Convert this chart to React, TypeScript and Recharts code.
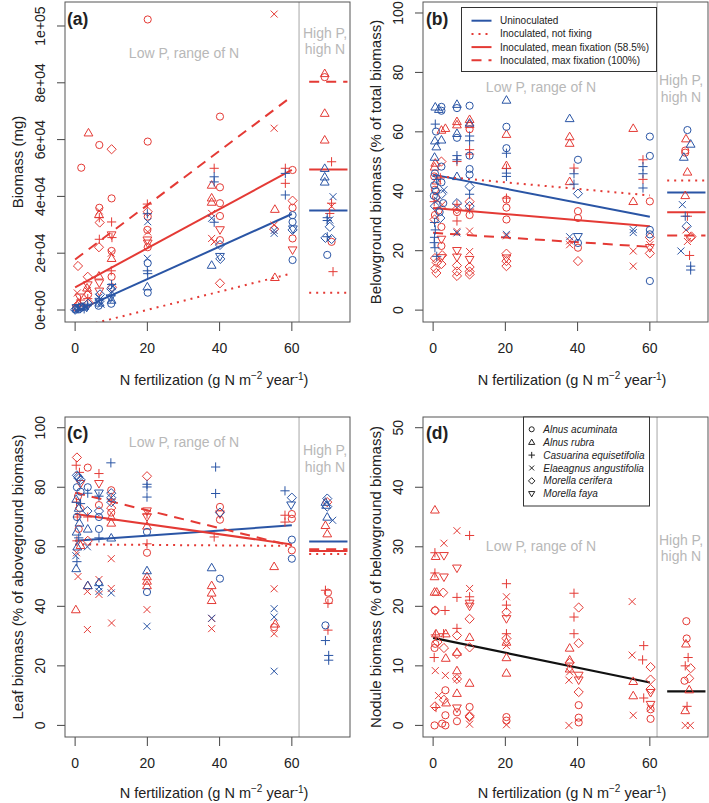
import React from "react";
import { ScatterChart, Scatter, XAxis, YAxis, ReferenceLine } from "recharts";

// species: 0 Alnus acuminata, 1 Alnus rubra, 2 Casuarina, 3 Elaeagnus, 4 Morella cerifera, 5 Morella faya
const AA = 0, AR = 1, CE = 2, EA = 3, MC = 4, MF = 5;
const SPECIES = [
  "Alnus acuminata",
  "Alnus rubra",
  "Casuarina equisetifolia",
  "Elaeagnus angustifolia",
  "Morella cerifera",
  "Morella faya",
];

const X_DOMAIN = [-2.8, 76.1];
const X_TICKS = [0, 20, 40, 60];
const FIT_X = [0, 60];
const HIGH_X = [64.8, 75.4];
const SPLIT_X = 62;

// (a) total biomass, mg
const aRed = [
  [0.5, 1500, MC], [1.0, 2500, AR], [0.3, 800, AA], [1.5, 3500, CE], [0.8, 15500, MC], [1.7, 50100, AA], [1.2, 4500, MF], [0.6, 6000, EA],
  [3.7, 62400, AR], [3.5, 11700, MC], [3.5, 8800, MF], [3.4, 6900, EA], [3.6, 5500, AA], [3.5, 4000, CE], [3.3, 7800, AR], [3.8, 2500, MC],
  [6.7, 58100, AA], [6.7, 36000, AA], [6.7, 34900, EA], [6.6, 33700, AR], [6.7, 32500, CE], [6.8, 30800, MC], [6.7, 24900, CE], [6.6, 22100, MC], [6.7, 9500, MF], [6.7, 6600, MF], [6.6, 12000, AR],
  [10.1, 56600, MC], [10.1, 39300, AA], [10.1, 31000, CE], [10.1, 26400, MF], [10.2, 25500, CE], [10.0, 20000, EA], [10.1, 20800, AA], [10.1, 18200, AR], [10.0, 13800, CE], [10.1, 11700, AA], [10.2, 8000, MC],
  [20.1, 102300, AA], [20.1, 59300, AA], [20.0, 37300, CE], [20.1, 34600, MC], [20.1, 32900, AA], [20.0, 28200, AA], [20.1, 27500, EA], [20.0, 24600, MF], [20.1, 23500, MF], [20.1, 22100, AA],
  [40.1, 68100, AA], [38.5, 49900, CE], [37.8, 44000, AR], [40.1, 43200, AA], [37.8, 39500, AR], [37.8, 38000, AR], [40.1, 37600, AA], [37.8, 34000, EA], [40.1, 33100, AA], [40.1, 28200, MF], [37.8, 25200, EA], [38.5, 24000, EA], [40.1, 24600, AA], [40.1, 9400, MC],
  [55.1, 104200, EA], [55.1, 64000, EA], [58.2, 49900, CE], [60.2, 49300, AA], [58.2, 44600, CE], [60.2, 38500, MC], [55.3, 35500, AR], [60.2, 36000, AA], [55.1, 29900, EA], [55.1, 28500, MC], [60.2, 25200, AA], [60.2, 21100, MF], [55.3, 11500, AR],
  [69.1, 83300, AR], [69.1, 82000, AA], [69.1, 69300, AR], [69.1, 59900, AR], [71.0, 52200, CE], [71.0, 37600, CE], [71.0, 36500, EA], [70.5, 34000, CE], [71.0, 24000, AA], [71.4, 13500, CE],
];
const aBlue = [
  [0.2, 200, AA], [0.5, 400, AR], [0.8, 300, CE], [1.0, 600, EA], [1.3, 500, MC], [0.4, 800, MF], [1.8, 900, AA], [2.2, 1100, AR], [2.8, 1300, EA], [3.4, 1500, CE], [3.6, 2200, MC], [3.2, 900, MF], [0.0, 100, MC], [1.5, 1200, AA], [2.5, 400, CE],
  [6.5, 1500, AA], [6.8, 2500, AR], [6.7, 3500, CE], [6.6, 4500, EA], [6.9, 5500, MC], [6.7, 3000, MF], [7.2, 2000, EA],
  [10.0, 2200, AA], [10.1, 3500, AR], [10.0, 5000, CE], [10.2, 6500, EA], [10.0, 7500, MC], [10.1, 9000, CE], [9.8, 4200, MF], [10.3, 8200, EA],
  [20.0, 33900, CE], [20.1, 31100, EA], [20.0, 18200, EA], [20.1, 16500, AA], [20.0, 13800, CE], [20.1, 12800, CE], [20.0, 8200, AR], [20.1, 6100, AA],
  [38.5, 46900, CE], [38.5, 45100, CE], [37.8, 32300, EA], [38.5, 30900, CE], [40.1, 22900, MC], [40.1, 18800, MF], [40.2, 18000, MC], [37.8, 15800, AR],
  [58.2, 48100, CE], [58.2, 40500, CE], [60.2, 33400, AA], [60.2, 31000, AA], [55.1, 27000, EA], [55.1, 28000, EA], [60.2, 28200, MC], [60.3, 28500, MF], [60.2, 17600, AA],
  [69.1, 49900, AR], [69.1, 46900, AR], [69.1, 45100, AR], [71.4, 39900, EA], [69.8, 32500, CE], [69.8, 31500, CE], [70.5, 31700, EA], [70.5, 29300, MC], [69.8, 25800, CE], [69.3, 25400, MC], [71.0, 25000, MC], [69.8, 19400, AA],
];
// fits: [uninoculated, not fixing, mean fixation, max fixation], values at x = 0 and 60
const aFits = [[-600, 33800], [-6400, 12900], [8000, 49300], [17800, 75200]];
const aHigh = [35000, 6100, 49500, 80400];

// (b) belowground biomass, % of total
const bRed = [
  [2.3, 60.6, AR], [3.4, 61.2, AR], [0.4, 48.2, AR], [0.6, 49.5, AR], [2.3, 50.0, MC], [0.3, 45.0, AA], [1.0, 43.5, AR], [2.0, 44.5, CE], [0.5, 40.5, AA], [0.8, 38.0, AA], [0.3, 36.5, CE], [2.5, 35.5, EA], [0.5, 32.0, AA], [1.5, 33.5, AA], [0.4, 30.5, MC], [2.3, 28.0, AA], [2.3, 23.8, MF], [2.3, 21.6, AA], [0.5, 17.5, MC], [1.0, 16.0, MC], [0.6, 14.0, MC], [2.3, 17.6, MF], [2.3, 15.5, MC], [0.9, 12.5, MC], [2.5, 18.5, MC],
  [6.6, 62.4, AR], [6.6, 63.5, AR], [6.6, 50.0, CE], [6.6, 35.6, CE], [6.6, 33.0, AA], [6.6, 30.0, CE], [6.6, 26.5, EA], [6.6, 20.0, MF], [6.6, 17.8, MF], [6.6, 15.0, MC], [6.6, 13.0, MC], [6.6, 11.5, MC], [6.6, 34.0, MC],
  [10.1, 64.2, AR], [10.1, 62.5, AR], [10.1, 60.9, AA], [10.1, 54.0, CE], [10.1, 52.5, CE], [10.1, 36.5, MC], [10.1, 34.0, CE], [10.1, 32.0, AA], [10.1, 26.6, EA], [10.1, 19.7, EA], [10.1, 17.0, MF], [10.1, 14.5, MC], [10.1, 12.0, MC], [10.1, 13.0, MC],
  [20.3, 59.2, AR], [20.3, 48.7, AR], [20.3, 47.7, CE], [20.3, 37.7, CE], [20.3, 37.2, AA], [20.3, 34.5, AA], [20.3, 30.5, AA], [20.3, 25.0, EA], [20.3, 19.0, MC], [20.3, 17.5, MF], [20.3, 16.5, MC], [20.3, 14.8, MC],
  [37.8, 58.4, AR], [37.8, 56.2, AR], [39.0, 47.8, CE], [37.8, 43.3, AR], [40.1, 33.3, AA], [40.1, 31.0, AA], [37.8, 23.3, EA], [40.1, 21.0, AA], [37.8, 22.0, EA], [40.1, 16.5, MC],
  [55.4, 61.2, AR], [58.1, 50.6, CE], [58.1, 44.0, CE], [55.4, 36.6, AR], [60.0, 36.6, AA], [55.4, 19.9, EA], [55.4, 14.8, EA], [60.0, 22.0, EA], [60.0, 21.0, MF], [60.0, 19.1, MC], [60.0, 24.5, MC],
  [70.0, 57.7, AR], [69.8, 53.7, AA], [69.8, 53.0, AA], [70.4, 46.5, AR], [69.8, 38.6, AR], [70.4, 31.6, CE], [70.0, 27.0, EA], [71.3, 24.4, MC], [71.5, 24.8, MC], [70.4, 23.1, EA], [71.0, 18.4, CE],
];
const bBlue = [
  [0.6, 68.4, AR], [1.6, 67.6, AR], [2.3, 68.4, AA], [2.3, 67.1, AA], [0.6, 62.6, CE], [0.8, 60.1, AA], [0.5, 57.0, AR], [0.9, 55.0, AR], [0.4, 51.5, AR], [2.3, 57.3, AR], [2.3, 48.3, AA], [0.5, 46.0, AA], [1.0, 44.0, CE], [0.3, 42.0, AA], [0.8, 40.0, AA], [0.2, 38.5, AA], [1.2, 37.0, EA], [2.3, 39.0, MC], [2.8, 36.0, AA], [0.5, 35.0, MC], [2.3, 43.0, AA], [3.0, 40.5, EA], [0.4, 29.5, CE], [0.6, 27.0, CE], [0.4, 24.5, CE], [0.3, 22.7, CE], [0.5, 21.0, CE], [1.0, 18.1, CE], [1.8, 33.0, AA], [2.0, 31.0, MC],
  [6.6, 69.3, AR], [6.6, 68.0, AA], [6.6, 59.5, AR], [6.6, 58.0, AA], [6.6, 50.6, CE], [6.6, 52.0, CE], [6.6, 45.0, AR], [6.6, 26.0, EA], [6.6, 36.0, MC],
  [10.1, 68.8, AA], [10.1, 63.0, AR], [10.1, 58.6, CE], [10.1, 57.0, CE], [10.1, 52.0, AA], [10.1, 47.5, AA], [10.1, 45.6, AA], [10.1, 41.6, MC], [10.1, 39.0, CE], [10.1, 35.0, MC],
  [20.3, 70.7, AR], [20.3, 61.7, AA], [20.3, 54.5, AA], [20.3, 52.8, CE], [20.3, 46.1, CE], [20.3, 45.0, CE], [20.3, 25.5, EA],
  [37.8, 64.5, AR], [40.1, 50.6, AA], [39.0, 45.9, CE], [39.0, 42.4, CE], [40.1, 39.2, MC], [37.8, 24.7, EA], [40.1, 24.7, MF], [40.1, 22.6, AA],
  [60.0, 58.4, AA], [60.0, 51.9, AA], [58.1, 48.3, CE], [58.1, 45.9, CE], [58.1, 41.1, CE], [55.4, 27.1, EA], [55.4, 26.1, EA], [60.0, 27.0, AA], [60.0, 25.5, AA], [60.0, 9.8, AA],
  [70.4, 60.6, AA], [71.3, 55.9, AR], [69.4, 51.5, AR], [69.0, 35.5, EA], [69.8, 31.6, CE], [70.2, 28.2, MC], [68.6, 19.9, EA], [71.3, 14.8, CE], [71.3, 13.5, CE],
];
const bFits = [[45.6, 31.4], [45.2, 38.6], [34.4, 28.2], [26.0, 21.3]];
const bHigh = [39.6, 43.6, 32.9, 25.1];

// (c) leaf biomass, % of aboveground
const cRed = [
  [0.5, 90.0, MC], [0.3, 87.4, CE], [1.2, 85.0, CE], [1.5, 81.2, MF], [0.8, 77.0, AA], [0.4, 75.0, CE], [1.3, 73.0, MC], [0.6, 70.0, CE], [1.0, 66.0, AA], [0.5, 62.0, CE], [0.4, 58.0, EA], [0.8, 50.0, EA], [0.2, 38.9, AR], [1.5, 60.5, AR],
  [3.5, 86.6, AA], [3.4, 45.0, EA], [3.5, 47.0, AR], [3.4, 32.2, EA], [3.5, 70.0, CE], [3.5, 62.0, MC],
  [6.6, 84.6, CE], [6.6, 81.2, MF], [6.6, 49.0, EA], [6.6, 44.0, EA], [6.6, 74.0, AA],
  [10.0, 79.0, AA], [10.0, 76.0, CE], [10.0, 73.0, MC], [10.0, 70.0, AR], [10.0, 68.0, AR], [10.0, 56.0, EA], [10.0, 46.0, EA], [10.1, 34.4, EA], [10.0, 71.5, AA],
  [19.9, 83.7, MC], [19.9, 72.0, MF], [19.9, 71.0, CE], [19.9, 70.0, MF], [19.9, 67.0, AR], [19.9, 61.0, CE], [19.9, 58.0, AA], [19.9, 50.0, AR], [19.9, 48.5, AR], [19.9, 47.0, AR], [19.9, 38.9, EA],
  [40.1, 73.4, AA], [40.1, 69.1, AA], [40.1, 71.0, MF], [38.5, 63.3, CE], [37.8, 47.0, AR], [37.8, 44.5, AR], [37.8, 42.0, AR], [37.8, 35.9, EA], [37.8, 32.5, EA],
  [58.1, 70.6, CE], [60.0, 69.4, AA], [58.1, 68.3, CE], [60.0, 71.0, AA], [60.0, 58.8, AA], [55.1, 53.4, AR], [55.1, 45.9, EA], [55.4, 34.1, AR], [55.1, 33.0, AA], [55.1, 30.8, EA],
  [69.8, 75.0, MC], [69.3, 67.2, AR], [69.8, 64.4, AR], [69.3, 45.4, CE], [70.0, 44.6, AA], [70.3, 42.0, AA], [70.0, 41.0, CE], [70.0, 32.0, CE],
];
const cBlue = [
  [0.5, 84.0, MC], [1.0, 83.0, MC], [1.5, 82.5, MC], [0.8, 83.5, MC], [0.5, 80.0, AA], [1.5, 78.5, AA], [0.3, 76.0, AR], [1.0, 73.0, AR], [0.5, 70.0, AA], [1.2, 68.0, AR], [0.4, 65.0, AR], [1.0, 63.0, CE], [0.6, 60.0, AR], [0.2, 57.0, EA], [0.5, 55.0, CE], [0.3, 52.7, AR], [1.5, 74.5, CE],
  [3.5, 80.0, AA], [3.5, 78.0, CE], [3.4, 72.0, MC], [3.5, 66.0, AR], [3.4, 60.0, EA], [3.5, 47.0, AR],
  [6.6, 78.0, MF], [6.6, 77.0, CE], [6.6, 72.0, MC], [6.6, 70.0, AA], [6.6, 66.0, AA], [6.6, 63.0, CE], [6.6, 48.0, AR], [6.6, 45.0, EA], [6.6, 46.5, EA],
  [9.9, 88.2, CE], [10.0, 78.0, MC], [10.0, 76.5, MC], [10.0, 75.0, MC], [10.0, 63.0, AR], [10.0, 44.5, EA],
  [19.9, 81.0, CE], [19.9, 80.1, CE], [19.9, 76.7, CE], [19.9, 65.0, AA], [19.9, 52.0, AR], [19.9, 44.8, AA], [19.9, 33.3, EA],
  [38.9, 86.8, CE], [38.9, 77.9, CE], [40.1, 71.5, MC], [37.8, 53.0, AR], [40.1, 49.3, AA], [37.8, 36.0, EA],
  [58.1, 78.8, CE], [60.0, 76.5, MC], [59.8, 74.0, MF], [60.0, 62.4, AA], [60.0, 56.0, AA], [55.1, 39.2, EA], [55.1, 36.4, EA], [55.1, 18.2, EA],
  [69.8, 76.2, MC], [69.8, 73.5, MC], [69.3, 75.0, AR], [69.5, 74.0, AR], [71.3, 68.9, EA], [69.8, 70.0, AR], [69.3, 33.6, AA], [69.3, 28.5, CE], [70.2, 23.5, CE], [70.2, 21.9, CE],
];
const cFits = [[62.0, 67.2], [60.8, 60.3], [71.0, 60.8], [78.2, 60.3]];
const cHigh = [61.8, 57.6, 58.6, 59.2];

// (d) nodule biomass, % of belowground
const dRed = [
  [0.5, 36.2, AR], [0.5, 29.0, CE], [0.7, 28.4, AR], [0.5, 25.6, CE], [0.4, 25.0, AR], [0.4, 22.4, AR], [1.0, 22.4, AR], [0.6, 19.3, MC], [0.5, 19.3, AA], [0.8, 15.4, AR], [0.6, 15.2, CE], [0.6, 13.7, AA], [0.4, 13.0, AA], [1.2, 14.0, MC], [0.3, 11.4, CE], [0.6, 9.2, EA], [0.5, 3.2, MC], [0.8, 3.0, CE], [0.4, 0.0, AA], [1.5, 5.0, EA],
  [3.0, 30.6, EA], [3.0, 28.5, MF], [3.0, 24.9, MF], [2.8, 22.3, MC], [3.3, 19.3, CE], [2.9, 15.4, CE], [3.0, 13.0, MC], [3.5, 15.4, AR], [3.5, 11.3, AR], [3.4, 8.4, EA], [3.4, 5.9, AA], [3.6, 3.8, AR], [3.0, 4.3, MC], [3.4, 1.7, AA], [3.4, 0.0, AA], [2.5, 0.3, AA],
  [6.6, 32.7, EA], [6.6, 26.4, MF], [6.6, 21.5, CE], [6.6, 16.3, CE], [6.6, 15.1, MC], [6.6, 12.3, AR], [6.6, 12.0, MC], [6.6, 9.2, AR], [6.6, 7.8, EA], [6.6, 7.8, MC], [6.6, 5.4, AR], [6.6, 2.9, MF], [6.6, 2.2, AA], [6.6, 0.7, AA],
  [10.1, 31.9, CE], [10.1, 23.0, EA], [10.1, 21.6, CE], [10.1, 20.5, MF], [10.1, 20.0, MF], [10.1, 17.9, MC], [10.1, 14.8, AR], [10.1, 13.1, MC], [10.1, 7.1, AR], [10.1, 3.1, AA], [10.1, 1.6, MC], [10.1, 1.4, MC], [10.1, 0.2, EA],
  [20.3, 23.8, CE], [20.3, 21.6, EA], [20.3, 20.2, CE], [20.3, 19.0, MC], [20.3, 17.9, MF], [20.3, 15.4, CE], [20.3, 14.6, MC], [20.3, 13.4, EA], [20.3, 14.0, AR], [20.3, 11.4, AR], [20.3, 8.8, AR], [20.3, 1.4, AA], [20.3, 0.8, AA], [20.3, 0.1, EA],
  [39.0, 22.2, CE], [40.3, 19.8, MC], [39.0, 18.2, CE], [39.0, 15.4, CE], [40.3, 13.8, MC], [37.8, 13.0, AR], [37.8, 11.0, AR], [37.8, 10.5, MC], [37.8, 9.5, AR], [37.8, 9.0, EA], [40.3, 8.4, MF], [37.6, 7.6, EA], [40.3, 7.6, MF], [40.3, 5.6, MC], [40.3, 3.4, AA], [40.3, 1.3, AA], [40.3, 0.5, AA], [37.6, 0.0, EA],
  [55.1, 20.8, EA], [58.3, 13.4, CE], [55.1, 11.8, EA], [58.0, 11.0, CE], [60.2, 9.8, MC], [55.4, 7.4, AR], [60.2, 7.7, MC], [60.2, 6.1, MC], [60.2, 5.5, MF], [55.4, 5.0, AR], [58.3, 4.6, CE], [60.2, 3.5, MF], [60.2, 2.7, AA], [60.2, 2.9, EA], [60.2, 1.1, AA], [55.4, 1.7, EA],
  [70.1, 17.5, AA], [70.2, 14.6, AA], [70.0, 13.7, AR], [70.6, 11.4, CE], [69.8, 10.0, CE], [71.3, 9.6, MC], [69.6, 7.5, AA], [70.9, 7.9, MC], [70.9, 6.0, AR], [70.3, 3.2, CE], [69.8, 2.5, AR], [69.8, 0.0, EA], [71.2, 0.0, EA],
];
const dFit = [14.7, 7.2];
const dHigh = 5.7;

const LEGEND_FITS = [
  "Uninoculated",
  "Inoculated, not fixing",
  "Inoculated, mean fixation (58.5%)",
  "Inoculated, max fixation (100%)",
];

const RED = "#e43a35";
const BLUE = "#2a55a5";
const GREY = "#b8b8b8";
const INK = "#222";
const FONT = "'Liberation Sans', Arial, Helvetica, sans-serif";

const FIT_STYLES = [
  { stroke: BLUE, dash: undefined },
  { stroke: RED, dash: "2 5" },
  { stroke: RED, dash: undefined },
  { stroke: RED, dash: "10 7" },
];

const toRows = (pts: number[][]) => pts.map(([x, y, sp]) => ({ x, y, sp }));

function Glyph({ cx, cy, sp, color, s = 1 }: any) {
  const p = { fill: "none", stroke: color, strokeWidth: 1 };
  if (sp === 0) return <circle cx={cx} cy={cy} r={3.6 * s} {...p} />;
  if (sp === 1) {
    const h = 4.4 * s;
    return <polygon points={`${cx},${cy - h} ${cx - h},${cy + h * 0.72} ${cx + h},${cy + h * 0.72}`} {...p} />;
  }
  if (sp === 5) {
    const h = 4.4 * s;
    return <polygon points={`${cx},${cy + h} ${cx - h},${cy - h * 0.72} ${cx + h},${cy - h * 0.72}`} {...p} />;
  }
  if (sp === 2) {
    const h = 4.6 * s;
    return <path d={`M${cx - h},${cy}H${cx + h}M${cx},${cy - h}V${cy + h}`} {...p} />;
  }
  if (sp === 3) {
    const h = 3.5 * s;
    return <path d={`M${cx - h},${cy - h}L${cx + h},${cy + h}M${cx - h},${cy + h}L${cx + h},${cy - h}`} {...p} />;
  }
  const h = 4.6 * s;
  return <polygon points={`${cx},${cy - h} ${cx + h},${cy} ${cx},${cy + h} ${cx - h},${cy}`} {...p} />;
}

const shapeFor = (color: string) => (props: any) =>
  <Glyph cx={props.cx} cy={props.cy} sp={props.payload.sp} color={color} />;

const YTick = ({ x, y, payload, fmt }: any) => (
  <text
    x={x - 17}
    y={y}
    transform={`rotate(-90 ${x - 17} ${y})`}
    textAnchor="middle"
    dominantBaseline="central"
    fontSize={14}
    fill={INK}
    fontFamily={FONT}
  >
    {fmt(payload.value)}
  </text>
);

const sci = (v: number) => {
  const [m, e] = v.toExponential().split("e");
  return `${m}e${e[0]}${e.slice(1).padStart(2, "0")}`;
};
const plain = (v: number) => String(v);

function fitLines(fits: number[][], high: number[]) {
  const out: any[] = [];
  fits.forEach((f, i) => {
    const st = FIT_STYLES[i];
    out.push(
      <ReferenceLine
        key={`f${i}`}
        segment={[{ x: FIT_X[0], y: f[0] }, { x: FIT_X[1], y: f[1] }]}
        stroke={st.stroke}
        strokeWidth={2}
        strokeDasharray={st.dash}
        ifOverflow="hidden"
      />,
      <ReferenceLine
        key={`h${i}`}
        segment={[{ x: HIGH_X[0], y: high[i] }, { x: HIGH_X[1], y: high[i] }]}
        stroke={st.stroke}
        strokeWidth={2}
        strokeDasharray={st.dash}
        ifOverflow="hidden"
      />
    );
  });
  return out;
}

function Panel({ left, top, width, yDomain, yTicks, fmt, red, blue, lines }: any) {
  return (
    <div style={{ position: "absolute", left, top }}>
      <ScatterChart width={width} height={370} margin={{ top: 2, right: width - 350, bottom: 8, left: 0 }}>
        <XAxis
          type="number"
          dataKey="x"
          domain={X_DOMAIN}
          ticks={X_TICKS}
          interval={0}
          allowDataOverflow
          height={40}
          tickSize={9}
          tickMargin={12}
          axisLine={false}
          tickLine={{ stroke: "#444" }}
          tick={{ fontSize: 14, fill: INK, fontFamily: FONT }}
        />
        <YAxis
          type="number"
          dataKey="y"
          domain={yDomain}
          ticks={yTicks}
          interval={0}
          allowDataOverflow
          width={65}
          tickSize={8}
          tickMargin={0}
          axisLine={false}
          tickLine={{ stroke: "#444" }}
          tick={(p: any) => <YTick {...p} fmt={fmt} />}
        />
        <ReferenceLine x={SPLIT_X} stroke="#c4c4c4" strokeWidth={1.5} />
        <Scatter data={toRows(red)} shape={shapeFor(RED)} isAnimationActive={false} />
        {blue && <Scatter data={toRows(blue)} shape={shapeFor(BLUE)} isAnimationActive={false} />}
        {lines}
      </ScatterChart>
    </div>
  );
}

const XTitle = ({ cx, y }: any) => (
  <text x={cx} y={y} textAnchor="middle" fontSize={14.5} fill={INK} fontFamily={FONT}>
    N fertilization (g N m
    <tspan dy={-6} fontSize={10}>−2</tspan>
    <tspan dy={6}> year</tspan>
    <tspan dy={-5} fontSize={10}>-1</tspan>
    <tspan dy={5}>)</tspan>
  </text>
);

const YTitle = ({ x, cy, label }: any) => (
  <text x={x} y={cy} transform={`rotate(-90 ${x} ${cy})`} textAnchor="middle" dominantBaseline="central" fontSize={15} fill={INK} fontFamily={FONT}>
    {label}
  </text>
);

const Region = ({ lowX, lowY, highX, highY }: any) => (
  <g fill={GREY} fontSize={14} fontFamily={FONT} textAnchor="middle">
    <text x={lowX} y={lowY}>Low P, range of N</text>
    <text x={highX} y={highY}>High P,</text>
    <text x={highX} y={highY + 16.5}>high N</text>
  </g>
);

const BOXES = [
  [65, 2],
  [423, 2],
  [65, 417],
  [423, 417],
];

export default function App() {
  return (
    <div style={{ position: "absolute", left: 0, top: 0, width: 709, height: 803, background: "#fff", overflow: "hidden" }}>
      <Panel left={0} top={0} width={360} yDomain={[-4225, 108450]} yTicks={[0, 20000, 40000, 60000, 80000, 100000]} fmt={sci} red={aRed} blue={aBlue} lines={fitLines(aFits, aHigh)} />
      <Panel left={358} top={0} width={352} yDomain={[-4, 103.7]} yTicks={[0, 20, 40, 60, 80, 100]} fmt={plain} red={bRed} blue={bBlue} lines={fitLines(bFits, bHigh)} />
      <Panel left={0} top={415} width={360} yDomain={[-3.9, 103.6]} yTicks={[0, 20, 40, 60, 80, 100]} fmt={plain} red={cRed} blue={cBlue} lines={fitLines(cFits, cHigh)} />
      <Panel
        left={358}
        top={415}
        width={352}
        yDomain={[-1.95, 51.8]}
        yTicks={[0, 10, 20, 30, 40, 50]}
        fmt={plain}
        red={dRed}
        lines={[
          <ReferenceLine key="fit" segment={[{ x: FIT_X[0], y: dFit[0] }, { x: FIT_X[1], y: dFit[1] }]} stroke="#111" strokeWidth={2.2} ifOverflow="hidden" />,
          <ReferenceLine key="high" segment={[{ x: HIGH_X[0], y: dHigh }, { x: HIGH_X[1], y: dHigh }]} stroke="#111" strokeWidth={2.2} ifOverflow="hidden" />,
        ]}
      />
      <svg width={709} height={803} style={{ position: "absolute", left: 0, top: 0, pointerEvents: "none" }}>
        {BOXES.map(([x, y], i) => (
          <rect key={i} x={x} y={y} width={285} height={320} fill="none" stroke="#555" strokeWidth={1} />
        ))}
        <g fontSize={17.5} fontWeight="bold" fill={INK} fontFamily={FONT}>
          <text x={67} y={25}>(a)</text>
          <text x={426} y={25}>(b)</text>
          <text x={67} y={439}>(c)</text>
          <text x={426} y={439}>(d)</text>
        </g>
        <Region lowX={184} lowY={58} highX={325} highY={37.5} />
        <Region lowX={541} lowY={92} highX={681} highY={85} />
        <Region lowX={184} lowY={447} highX={325} highY={455} />
        <Region lowX={541} lowY={551} highX={681} highY={544.5} />
        <XTitle cx={214} y={385} />
        <XTitle cx={572} y={385} />
        <XTitle cx={214} y={798} />
        <XTitle cx={572} y={798} />
        <YTitle x={17} cy={162} label="Biomass (mg)" />
        <YTitle x={375} cy={162} label="Belowground biomass (% of total biomass)" />
        <YTitle x={17} cy={577} label="Leaf biomass (% of aboveground biomass)" />
        <YTitle x={375} cy={577} label="Nodule biomass (% of belowground biomass)" />
        <g fontFamily={FONT} fontSize={10} fill={INK}>
          <rect x={461.5} y={7.5} width={195} height={64} fill="#fff" stroke="#333" strokeWidth={1} />
          {LEGEND_FITS.map((t, i) => (
            <g key={t}>
              <line x1={471.5} x2={491.5} y1={20.7 + i * 13.2} y2={20.7 + i * 13.2} stroke={FIT_STYLES[i].stroke} strokeWidth={2} strokeDasharray={FIT_STYLES[i].dash} />
              <text x={500} y={20.7 + i * 13.2} dominantBaseline="central">{t}</text>
            </g>
          ))}
          <rect x={523.5} y={417} width={126} height={89} fill="#fff" stroke="#333" strokeWidth={1} />
          {SPECIES.map((t, i) => (
            <g key={t}>
              <Glyph cx={531.7} cy={429.3 + i * 12.9} sp={i} color="#222" s={0.7} />
              <text x={543.3} y={429.3 + i * 12.9} dominantBaseline="central" fontStyle="italic">{t}</text>
            </g>
          ))}
        </g>
      </svg>
    </div>
  );
}
